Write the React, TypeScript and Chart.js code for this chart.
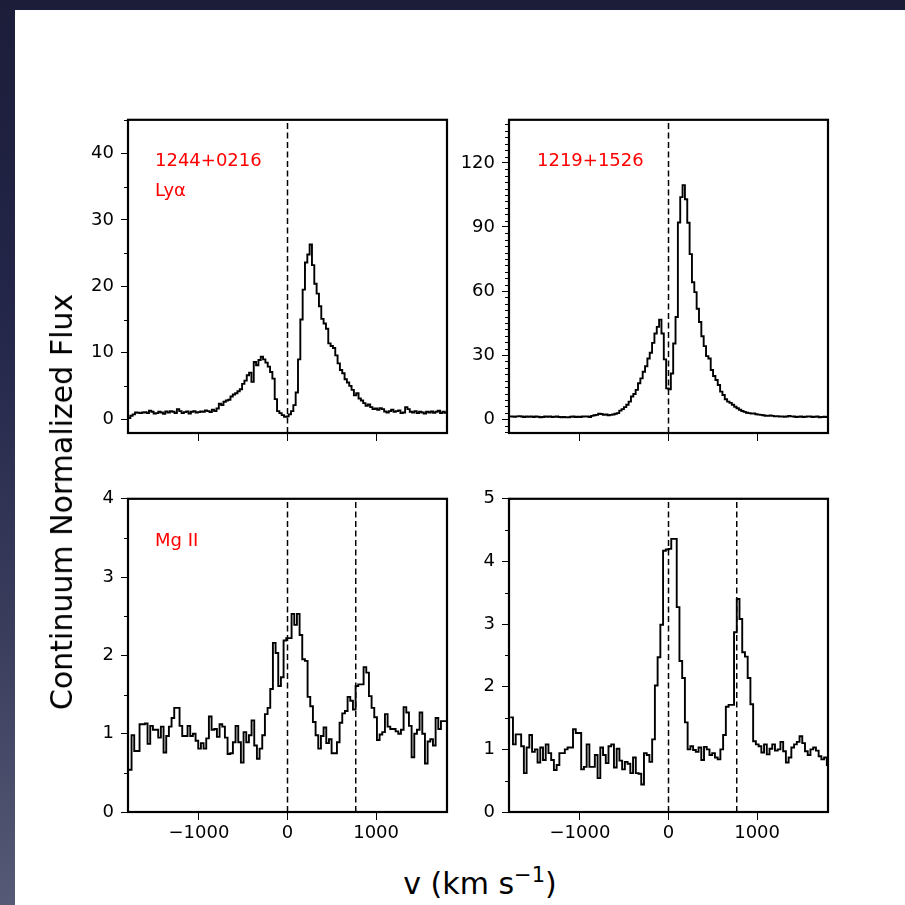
import React, { useEffect, useRef } from 'react';
import { Chart, registerables } from 'chart.js';

Chart.register(...registerables);

// ---------------- data ----------------
const VELOCITY_RANGE = [-1800, 1800];
const X_TICKS = [-1000, 0, 1000];
const LYA_LINE_VELOCITIES = [0];
const MGII_LINE_VELOCITIES = [0, 770];

// 1244+0216 Ly-alpha (bin start velocity, bin width km/s, flux per bin)
const TL_BIN_START = -1800;
const TL_BIN_WIDTH = 26.28;
const TL_FLUX = [
  0.15, 0.5, 0.7, 1.0, 0.95, 0.9, 1.0, 1.05, 0.9, 1.25, 1.1, 0.85, 0.9, 1.1, 1.0, 0.8, 1.15, 1.0, 1.2, 1.1,
  0.9, 1.5, 1.2, 0.9, 1.05, 1.15, 0.85, 1.1, 1.2, 1.0, 1.05, 1.15, 1.1, 1.3, 1.2, 1.05, 1.4, 1.2, 1.6,
  2.3, 2.1, 2.6, 2.8, 2.9, 3.4, 3.7, 3.9, 4.2, 4.5, 5.3, 5.8, 6.6, 7.0, 5.6, 8.6, 8.1, 8.9, 9.4, 9.0,
  8.5, 7.9, 7.1, 6.1, 3.0, 1.2, 0.9, 0.6, 0.35, 0.4, 0.7, 1.2, 2.1, 4.0, 9.0, 15.0, 19.5, 23.6, 24.8, 26.3,
  23.2, 20.4, 18.9, 17.0, 15.1, 14.4, 13.6, 11.4, 11.0, 10.7, 9.6, 8.4, 7.4, 6.9, 6.0, 5.5, 5.0, 4.4, 3.6, 3.9,
  3.1, 2.8, 2.4, 2.0, 2.2, 1.8, 1.5, 1.6, 1.4,
  1.65, 1.5, 1.15, 1.0, 1.2, 1.4, 1.1, 1.2, 1.3, 0.9, 1.0, 1.8, 1.5, 1.1, 1.0, 1.2, 0.9, 1.1, 1.0, 0.85,
  1.1, 1.0, 1.15, 0.95, 1.1, 1.25, 0.9, 1.1, 0.95,
];

// 1219+1526 Ly-alpha
const TR_BIN_START = -1800;
const TR_BIN_WIDTH = 26.47;
const TR_FLUX = [
  1.3, 1.2, 1.1, 1.3, 1.4, 1.2, 1.0, 1.2, 1.1, 1.3, 1.0, 1.2, 1.1, 0.9, 1.0, 1.2, 1.1, 1.3, 1.0, 1.1,
  1.2, 1.0, 0.9, 1.0, 0.8, 0.9, 1.1, 1.2, 1.0, 1.1, 1.0,
  1.2, 1.3, 1.2, 1.0, 1.5, 1.8, 2.0, 2.5, 2.4, 2.0, 2.2, 1.8, 2.0, 2.2, 2.5, 2.8,
  4.0, 4.7, 5.6, 6.7, 8.2, 10.6, 11.8, 13.7, 16.8, 19.1, 22.2, 24.8, 28.4, 31.1, 35.7, 40.1, 43.2, 46.6, 40.1, 28.0,
  14.4, 14.0, 21.4, 35.4, 47.8, 92.1, 104, 109.6, 103, 92, 77.3, 64.1, 59.5, 51.7, 45.5, 38.8, 34.2, 29.5, 28.4, 23.0,
  20.2, 18.3, 16.0, 12.9, 11.3, 9.3, 8.2,
  7.6, 6.7, 5.8, 5.1, 4.4, 3.8, 3.4, 3.0, 2.8, 2.6, 2.7, 2.3, 2.1, 2.0, 1.8, 1.6, 1.5, 1.7, 1.5, 1.3,
  1.4, 1.2, 1.3, 1.1, 1.2, 1.5, 1.3, 1.2, 1.0, 1.1, 1.2, 1.0, 1.1, 1.3, 1.2, 1.0, 1.1, 1.2, 0.9, 1.0,
  1.1, 1.0,
];

// 1244+0216 Mg II
const BL_BIN_START = -1790;
const BL_BIN_WIDTH = 30.1;
const BL_FLUX = [
  0.54, 0.98, 0.78, 0.78, 1.12, 1.12, 1.13, 0.87, 1.10, 1.05, 1.05, 0.95, 1.09, 0.76, 0.97, 1.09, 1.20, 1.33, 1.33, 1.10,
  0.97, 0.97, 1.10, 0.97, 1.0, 0.91, 0.81, 0.88, 0.81, 0.94, 1.22, 1.05, 1.06, 0.96, 1.12, 1.09, 0.95, 0.74, 0.75, 0.89,
  1.10, 0.89, 0.63, 1.02, 0.89, 0.98, 1.17, 0.85, 0.68, 0.81, 0.98, 1.25, 1.33, 1.57, 2.16, 2.03, 1.61, 1.72, 2.19,
  2.22, 2.22, 2.53, 2.39, 2.53, 2.26, 1.95, 1.93, 1.47, 1.35, 1.15, 0.98, 0.81, 0.97, 1.08, 0.88, 0.93, 0.75, 0.75, 0.89,
  1.14, 1.26, 1.29, 1.47, 1.42, 1.31, 1.61, 1.63, 1.63, 1.85, 1.78, 1.48, 1.33, 1.21, 0.92, 0.99, 1.02, 1.25, 1.09, 1.06,
  1.06, 1.03, 1.0, 1.05, 1.34, 1.27, 1.10, 0.70, 1.0, 1.05, 1.27, 1.0, 0.62, 0.9, 0.93, 0.85, 1.2, 1.06, 1.16, 1.16,
];

// 1219+1526 Mg II
const BR_BIN_START = -1786;
const BR_BIN_WIDTH = 30.8;
const BR_FLUX = [
  1.51, 1.08, 1.24, 1.24, 1.05, 0.62, 1.03, 1.23, 0.96, 1.0, 0.79, 1.03, 0.83, 1.08, 0.94, 0.83, 0.67, 0.75, 0.94, 0.94,
  1.0, 1.03, 1.03, 1.32, 1.26, 1.26, 0.68, 0.72, 1.08, 0.72, 0.72, 0.91, 0.54, 1.03, 0.91, 0.78, 1.05, 1.08, 0.71, 1.01,
  0.82, 0.68, 0.80, 0.77, 0.62, 0.87, 0.62, 0.61, 0.44, 0.94, 0.91, 0.80, 1.16, 2.02, 2.47, 2.99, 4.17, 4.19,
  4.2, 4.36, 4.36, 3.27, 2.41, 2.14, 1.43, 1.0, 1.05, 0.99, 0.96, 1.03, 0.83, 1.04, 1.0, 0.91, 0.94, 0.87, 0.84, 1.0,
  1.23, 1.68, 1.71, 1.71, 2.87, 3.40, 3.08, 2.55, 2.48, 2.14, 1.72, 1.13, 1.08, 1.05, 0.95, 1.08, 0.92, 1.01, 1.08, 0.98,
  1.0, 1.12, 0.97, 0.79, 0.87, 1.03, 1.08, 1.12, 1.21, 1.1, 0.97, 0.91, 1.0, 1.03, 0.98, 0.89, 0.84, 0.87, 0.75, 0.78,
  0.78,
];

const TL_Y_TICKS = [0, 10, 20, 30, 40];
const TR_Y_TICKS = [0, 30, 60, 90, 120];
const BL_Y_TICKS = [0, 1, 2, 3, 4];
const BR_Y_TICKS = [0, 1, 2, 3, 4, 5];

const TL_LABELS = ['1244+0216', 'Ly\u03b1'];
const TR_LABELS = ['1219+1526'];
const BL_LABELS = ['Mg II'];
const BR_LABELS: string[] = [];

const Y_TITLE = 'Continuum Normalized Flux';
const X_TITLE = 'v (km s';
const X_TITLE_SUP = '\u22121';

// ---------------- layout ----------------
const FONT = '"DejaVu Sans", Verdana, sans-serif';
const PLOT_W = 319;
const PLOT_H = 315;
const LEFT_W = 64;
const PAD_T = 16;
const PAD_R = 16;
const BOTTOM_H = 44;
const CANVAS_W = LEFT_W + PLOT_W + PAD_R;
const CANVAS_H = PAD_T + PLOT_H + BOTTOM_H;

type PanelCfg = {
  left: number;
  top: number;
  start: number;
  width: number;
  flux: number[];
  yMin: number;
  yMax: number;
  yTicks: number[];
  minorStep: number;
  lines: number[];
  labels: string[];
  labelPos: number[][];
  showXLabels: boolean;
};

const PANELS: PanelCfg[] = [
  {
    left: 128, top: 118, start: TL_BIN_START, width: TL_BIN_WIDTH, flux: TL_FLUX,
    yMin: -2.1, yMax: 45.1, yTicks: TL_Y_TICKS, minorStep: 5, lines: LYA_LINE_VELOCITIES,
    labels: TL_LABELS, labelPos: [[27, 46], [27, 76]], showXLabels: false,
  },
  {
    left: 509, top: 118, start: TR_BIN_START, width: TR_BIN_WIDTH, flux: TR_FLUX,
    yMin: -6.5, yMax: 140.2, yTicks: TR_Y_TICKS, minorStep: 3, lines: LYA_LINE_VELOCITIES,
    labels: TR_LABELS, labelPos: [[28, 46]], showXLabels: false,
  },
  {
    left: 128, top: 497, start: BL_BIN_START, width: BL_BIN_WIDTH, flux: BL_FLUX,
    yMin: 0, yMax: 4, yTicks: BL_Y_TICKS, minorStep: 0.5, lines: MGII_LINE_VELOCITIES,
    labels: BL_LABELS, labelPos: [[27, 47]], showXLabels: true,
  },
  {
    left: 509, top: 497, start: BR_BIN_START, width: BR_BIN_WIDTH, flux: BR_FLUX,
    yMin: 0, yMax: 5, yTicks: BR_Y_TICKS, minorStep: 0.5, lines: MGII_LINE_VELOCITIES,
    labels: BR_LABELS, labelPos: [], showXLabels: true,
  },
];

const fmt = (v: number) => (v < 0 ? '\u2212' + String(-v) : String(v));

function buildChart(canvas: HTMLCanvasElement, p: PanelCfg) {
  const pts = p.flux.map((y, i) => ({ x: p.start + i * p.width, y }));
  pts.push({ x: p.start + p.flux.length * p.width, y: p.flux[p.flux.length - 1] });

  const lineSets = p.lines.map((v) => ({
    data: [
      { x: v, y: p.yMin },
      { x: v, y: p.yMax },
    ],
    borderColor: '#000',
    borderWidth: 1.5,
    borderDash: [6, 3.5],
    pointRadius: 0,
    stepped: false,
    fill: false,
  }));

  const decor = {
    id: 'decor' + p.left + p.top,
    afterDraw(chart: any) {
      const ctx = chart.ctx as CanvasRenderingContext2D;
      const ca = chart.chartArea;
      const ys = chart.scales.y;
      ctx.save();
      // minor y ticks
      ctx.strokeStyle = '#000';
      ctx.lineWidth = 1;
      const first = Math.ceil(p.yMin / p.minorStep);
      const last = Math.floor(p.yMax / p.minorStep);
      for (let k = first; k <= last; k++) {
        const v = k * p.minorStep;
        if (p.yTicks.some((t) => Math.abs(t - v) < 1e-9)) continue;
        const py = Math.round(ys.getPixelForValue(v)) + 0.5;
        ctx.beginPath();
        ctx.moveTo(ca.left - 4, py);
        ctx.lineTo(ca.left, py);
        ctx.stroke();
      }
      // frame
      ctx.lineWidth = 2.2;
      ctx.strokeRect(ca.left, ca.top, ca.right - ca.left, ca.bottom - ca.top);
      // annotations
      ctx.fillStyle = '#ff0000';
      ctx.font = '18px ' + FONT;
      ctx.textAlign = 'left';
      ctx.textBaseline = 'alphabetic';
      p.labels.forEach((t, i) => {
        const [dx, dy] = p.labelPos[i];
        ctx.fillText(t, ca.left + dx, ca.top + dy);
      });
      ctx.restore();
    },
  };

  return new Chart(canvas, {
    type: 'line',
    data: {
      datasets: [
        {
          data: pts,
          borderColor: '#000',
          borderWidth: 1.9,
          pointRadius: 0,
          stepped: true,
          fill: false,
          tension: 0,
        },
        ...lineSets,
      ] as any,
    },
    options: {
      animation: false,
      responsive: false,
      maintainAspectRatio: false,
      events: [],
      layout: { padding: { top: PAD_T, right: PAD_R, left: 0, bottom: 0 } },
      plugins: { legend: { display: false }, tooltip: { enabled: false } },
      scales: {
        x: {
          type: 'linear',
          min: VELOCITY_RANGE[0],
          max: VELOCITY_RANGE[1],
          afterBuildTicks: (s: any) => {
            s.ticks = X_TICKS.map((v) => ({ value: v }));
          },
          afterFit: (s: any) => {
            s.height = BOTTOM_H;
          },
          grid: { display: true, drawOnChartArea: false, drawTicks: true, tickLength: 8, tickColor: '#000', tickWidth: 1 },
          border: { display: false },
          ticks: {
            display: p.showXLabels,
            color: '#000',
            font: { family: FONT, size: 18 },
            padding: 3,
            maxRotation: 0,
            minRotation: 0,
            autoSkip: false,
            callback: (v: any) => fmt(Number(v)),
          },
        },
        y: {
          type: 'linear',
          min: p.yMin,
          max: p.yMax,
          afterBuildTicks: (s: any) => {
            s.ticks = p.yTicks.map((v) => ({ value: v }));
          },
          afterFit: (s: any) => {
            s.width = LEFT_W;
          },
          grid: { display: true, drawOnChartArea: false, drawTicks: true, tickLength: 7, tickColor: '#000', tickWidth: 1 },
          border: { display: false },
          ticks: {
            color: '#000',
            font: { family: FONT, size: 18 },
            padding: 7,
            autoSkip: false,
            callback: (v: any) => fmt(Number(v)),
          },
        },
      },
    } as any,
    plugins: [decor],
  });
}

function Panel({ p }: { p: PanelCfg }) {
  const ref = useRef<HTMLCanvasElement>(null);
  useEffect(() => {
    const chart = buildChart(ref.current as HTMLCanvasElement, p);
    return () => chart.destroy();
  }, [p]);
  return (
    <canvas
      ref={ref}
      width={CANVAS_W}
      height={CANVAS_H}
      style={{
        position: 'absolute',
        left: p.left - LEFT_W,
        top: p.top - PAD_T,
        width: CANVAS_W,
        height: CANVAS_H,
      }}
    />
  );
}

export default function App() {
  return (
    <div
      style={{
        position: 'fixed',
        left: 0,
        top: 0,
        width: 905,
        height: 905,
        overflow: 'hidden',
        background: 'linear-gradient(180deg, #1c1d39 0%, #24264a 35%, #3a3d5c 70%, #565a76 100%)',
      }}
    >
      <div style={{ position: 'absolute', left: 15, top: 10, width: 890, height: 895, background: '#ffffff' }} />
      {PANELS.map((p, i) => (
        <Panel key={i} p={p} />
      ))}
      <div
        style={{
          position: 'absolute',
          left: 62,
          top: 502,
          transform: 'translate(-50%, -50%) rotate(-90deg)',
          whiteSpace: 'nowrap',
          fontFamily: FONT,
          fontSize: 30,
          lineHeight: '34px',
          color: '#000',
        }}
      >
        {Y_TITLE}
      </div>
      <div
        style={{
          position: 'absolute',
          left: 480,
          top: 884,
          transform: 'translate(-50%, -50%)',
          whiteSpace: 'nowrap',
          fontFamily: FONT,
          fontSize: 30,
          lineHeight: '34px',
          color: '#000',
        }}
      >
        {X_TITLE}
        <sup style={{ fontSize: 21, lineHeight: 0, verticalAlign: '0.55em' }}>{X_TITLE_SUP}</sup>)
      </div>
    </div>
  );
}
